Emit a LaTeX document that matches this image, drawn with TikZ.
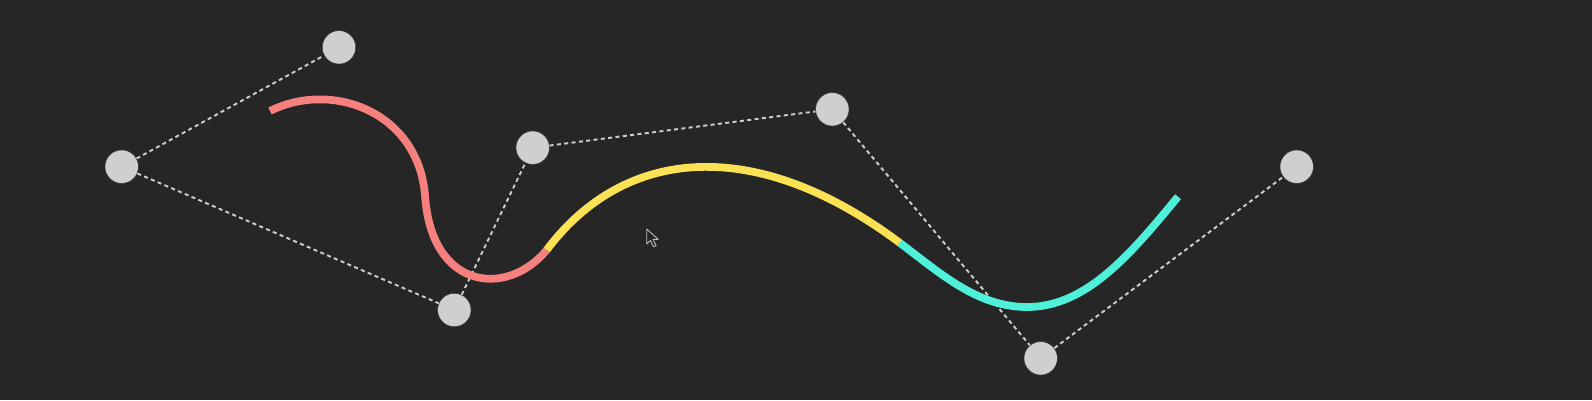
\documentclass[tikz,border=0pt]{standalone}
\definecolor{bg}{RGB}{38,38,38}
\definecolor{knot}{RGB}{207,207,207}
\definecolor{guide}{RGB}{205,205,205}
\definecolor{segred}{RGB}{245,128,125}
\definecolor{segyel}{RGB}{250,226,84}
\definecolor{segcyan}{RGB}{78,240,218}
\tikzset{
  ctrl/.style={circle, fill=knot, draw=black!80, line width=0.3pt, minimum size=0.67cm, inner sep=0pt},
  guideline/.style={draw=guide, line width=1.1pt, dash pattern=on 2.3pt off 1.9pt},
  seg/.style={line width=4.4pt, line cap=butt, line join=round},
}
\begin{document}
\begin{tikzpicture}[x=0.02cm, y=-0.02cm]
\fill[bg] (0,0) rectangle (1592,400);
\useasboundingbox (0,0) rectangle (1592,400);

\node[ctrl] (a) at (121.7,166.7) {};
\node[ctrl] (b) at (339,47.3) {};
\node[ctrl] (c) at (454.3,310) {};
\node[ctrl] (d) at (532.7,147.7) {};
\node[ctrl] (e) at (832.3,109.3) {};
\node[ctrl] (f) at (1040.7,358.3) {};
\node[ctrl] (g) at (1296.7,166.7) {};

\draw[guideline] (a) -- (b);
\draw[guideline] (a) -- (c);
\draw[guideline] (c) -- (d);
\draw[guideline] (d) -- (e);
\draw[guideline] (e) -- (f);
\draw[guideline] (f) -- (g);

\coordinate (s0) at (270,111);
\coordinate (s1) at (425,195);
\coordinate (s2) at (546.7,250);
\coordinate (s3) at (900,243);
\coordinate (s4) at (1027,307);
\coordinate (s5) at (1178,196.7);

\draw[seg, segred] (s0) .. controls (332,80) and (418,112) .. (s1)
  .. controls (431,290) and (507,298) .. (s2);
\draw[seg, segyel] (s2) .. controls (624.7,146) and (756,135) .. (s3);
\draw[seg, segcyan] (s3) .. controls (940,273) and (977,307) .. (s4)
  .. controls (1086,307) and (1130,255) .. (s5);

% mouse cursor
\coordinate (tip) at (646.7,229);
\filldraw[fill=black!85, draw=white!75!black, line width=0.5pt, line join=round]
  (tip) -- ++(0,15) -- ++(3.8,-3.6) -- ++(3,6.4) -- ++(2.6,-1.2) -- ++(-3,-6.2) -- ++(5.2,0) -- cycle;
\end{tikzpicture}
\end{document}
